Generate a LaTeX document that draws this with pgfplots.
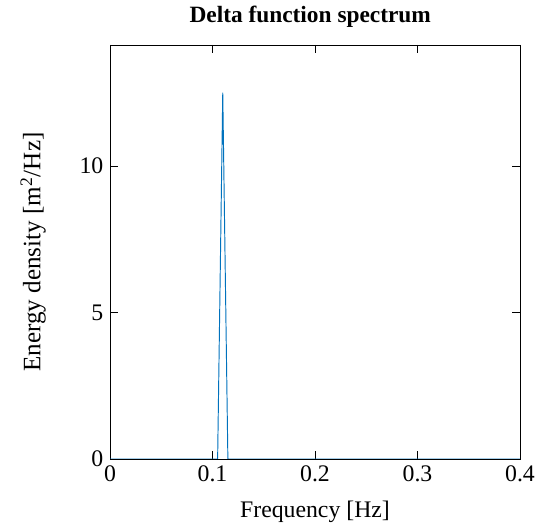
\documentclass[border=0pt]{standalone}
\usepackage{fontspec}
\setmainfont{Liberation Serif}
\usepackage{pgfplots}
\pgfplotsset{compat=1.18}
\definecolor{mblue}{RGB}{0,114,189}
\begin{document}
\begin{tikzpicture}
\begin{axis}[
  name=ax,
  scale only axis,
  width=215.8pt, height=217.9pt,
  xmin=0, xmax=0.4, ymin=0, ymax=14.13,
  xtick={0,0.1,0.2,0.3,0.4},
  ytick={0,5,10},
  /pgf/number format/assume math mode=true,
  every tick label/.append style={font=\fontsize{12.5}{14}\selectfont},
  xlabel style={font=\fontsize{12.5}{14}\selectfont, at={(axis description cs:0.5,-0.128)}, anchor=center},
  ylabel style={font=\fontsize{13.2}{15}\selectfont, at={(axis description cs:-0.1877,0.5)}, anchor=center},
  xlabel={Frequency [Hz]},
  ylabel={Energy density [m\textsuperscript{2}/Hz]},
  tick style={black},
]
\addplot[mblue, line width=0.5pt] coordinates {
 (0,0) (0.105,0) (0.11,12.5) (0.115,0) (0.4,0)
};
\end{axis}
\node[font=\fontsize{12.3}{14}\selectfont\bfseries, anchor=center] at ([shift={(-2.5pt,14.7pt)}]ax.north) {Delta function spectrum};
\pgfresetboundingbox
\path[use as bounding box] ([shift={(-57.9pt,-35.26pt)}]ax.south west) rectangle ([shift={(11.58pt,23.68pt)}]ax.north east);
\end{tikzpicture}
\end{document}
